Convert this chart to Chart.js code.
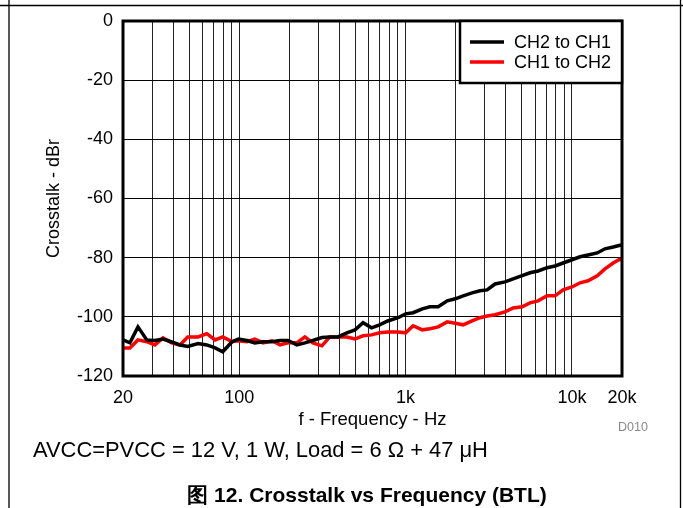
<!DOCTYPE html>
<html>
<head>
<meta charset="utf-8">
<script src="https://cdn.jsdelivr.net/npm/chart.js@4.4.1/dist/chart.umd.min.js"></script>
<style>
html,body{margin:0;padding:0;background:#fff;}
#wrap{position:relative;width:683px;height:508px;}
</style>
</head>
<body>
<div id="wrap"><canvas id="c" width="683" height="508"></canvas></div>
<script>
const freqs = [20, 22, 24.6, 27.8, 31.1, 34.8, 39.3, 44, 49, 56.5, 63.8, 71.6, 79.5, 90.5, 99, 111, 124, 139, 157, 176, 196, 222, 248, 277, 314, 350, 392, 444, 496, 555, 624, 698, 781, 900, 1000, 1110, 1260, 1400, 1570, 1780, 1990, 2220, 2510, 2800, 3090, 3450, 3960, 4430, 5020, 5600, 6260, 7090, 7920, 8850, 10000, 11200, 12500, 14200, 15800, 17700, 19200, 20000];
const ch2toCh1 = [-107.8, -108.8, -103.4, -107.8, -108, -107.5, -108.5, -109.5, -110, -109, -109.5, -110.5, -111.8, -108.4, -107.5, -108, -108.8, -108.4, -108.4, -108, -108, -109.5, -108.8, -108, -107, -106.8, -106.8, -105.4, -104.4, -102, -103.7, -102.7, -101.4, -100.3, -99, -98.6, -97.3, -96.6, -96.6, -94.6, -93.9, -92.9, -91.9, -91.2, -90.9, -88.9, -88.2, -87.2, -86.1, -85.1, -84.5, -83.4, -82.8, -81.8, -80.7, -79.7, -79.1, -78.4, -77, -76.4, -75.9, -75.7];
const ch1toCh2 = [-110.5, -110.5, -107.8, -108.4, -109.5, -107.1, -108.8, -109.5, -106.8, -106.8, -105.7, -107.8, -106.8, -108.4, -108.1, -108.4, -107.5, -108.8, -108.1, -109.5, -108.8, -108.8, -106.8, -108.8, -109.8, -106.8, -106.8, -106.8, -107.5, -106.4, -106.1, -105.4, -105.1, -105.1, -105.4, -103, -104.4, -104, -103.4, -101.7, -102.2, -102.7, -101.4, -100.3, -99.7, -99.3, -98.3, -97, -96.6, -95.3, -94.6, -92.9, -92.9, -90.9, -89.9, -88.5, -87.8, -86.1, -83.8, -81.8, -80.7, -80.4];
const seriesNames = ['CH2 to CH1', 'CH1 to CH2'];
const gridFreqs = [20, 30, 40, 50, 60, 70, 80, 90, 100, 200, 300, 400, 500, 600, 700, 800, 900, 1000, 2000, 3000, 4000, 5000, 6000, 7000, 8000, 9000, 10000, 20000];
const xTickValues = [20, 100, 1000, 10000, 20000];
const xTickLabels = ['20', '100', '1k', '10k', '20k'];
const yTicks = [0, -20, -40, -60, -80, -100, -120];
const xTitle = 'f - Frequency - Hz';
const yTitle = 'Crosstalk - dBr';
const codeLabel = 'D010';
const noteText = 'AVCC=PVCC = 12 V, 1 W, Load = 6 \u03A9 + 47 \u03BCH';
const captionText = '\u56FE 12. Crosstalk vs Frequency (BTL)';

const FONT = '"Liberation Sans", Arial, sans-serif';

const decor = {
  id: 'decor',
  beforeDraw(chart) {
    const ctx = chart.ctx;
    ctx.save();
    ctx.fillStyle = '#fff';
    ctx.fillRect(0, 0, chart.width, chart.height);
    ctx.strokeStyle = '#000';
    ctx.lineWidth = 1.3;
    ctx.beginPath();
    ctx.moveTo(0, 5.5); ctx.lineTo(683, 5.5);
    ctx.moveTo(9, 0); ctx.lineTo(9, 508);
    ctx.moveTo(680.5, 0); ctx.lineTo(680.5, 508);
    ctx.stroke();
    ctx.restore();
  },
  afterDatasetsDraw(chart) {
    const ctx = chart.ctx;
    const a = chart.chartArea;
    ctx.save();
    ctx.strokeStyle = '#000';
    ctx.lineWidth = 3;
    ctx.strokeRect(a.left, a.top, a.right - a.left, a.bottom - a.top);
    // legend box
    const bx = 460, by = a.top, bw = a.right - bx, bh = 62;
    ctx.fillStyle = '#fff';
    ctx.fillRect(bx, by, bw, bh);
    ctx.lineWidth = 2.5;
    ctx.strokeRect(bx, by, bw, bh);
    chart.data.datasets.forEach((ds, i) => {
      const y = by + 21 + i * 20;
      ctx.strokeStyle = ds.borderColor;
      ctx.lineWidth = 3.5;
      ctx.beginPath();
      ctx.moveTo(470, y); ctx.lineTo(504, y);
      ctx.stroke();
      ctx.fillStyle = '#000';
      ctx.font = '18px ' + FONT;
      ctx.textBaseline = 'middle';
      ctx.textAlign = 'left';
      ctx.fillText(ds.label, 514, y + 1);
    });
    // texts
    ctx.fillStyle = '#888';
    ctx.font = '12.5px ' + FONT;
    ctx.textAlign = 'center';
    ctx.textBaseline = 'middle';
    ctx.fillText(codeLabel, 633, 428);
    ctx.fillStyle = '#000';
    ctx.font = '21.9px ' + FONT;
    ctx.textAlign = 'left';
    ctx.fillText(noteText, 33, 451);
    ctx.font = 'bold 21px ' + FONT;
    ctx.textAlign = 'center';
    ctx.fillText(captionText, 367, 496);
    ctx.restore();
  }
};

new Chart(document.getElementById('c'), {
  type: 'line',
  data: {
    datasets: [
      { label: seriesNames[0], data: freqs.map((f, i) => ({x: f, y: ch2toCh1[i]})), borderColor: '#000', borderWidth: 3.5, pointRadius: 0, tension: 0, fill: false },
      { label: seriesNames[1], data: freqs.map((f, i) => ({x: f, y: ch1toCh2[i]})), borderColor: '#ff0000', borderWidth: 3.5, pointRadius: 0, tension: 0, fill: false }
    ]
  },
  options: {
    responsive: false,
    animation: false,
    devicePixelRatio: 1,
    layout: { padding: { top: 21, right: 61, left: 0, bottom: 74 } },
    plugins: { legend: { display: false }, tooltip: { enabled: false } },
    scales: {
      x: {
        type: 'logarithmic',
        min: 20, max: 20000,
        afterBuildTicks(s) { s.ticks = gridFreqs.map(v => ({value: v})); },
        afterFit(s) { s.height = 58; },
        ticks: {
          autoSkip: false, maxRotation: 0, padding: 11, color: '#000',
          font: { family: FONT, size: 18 },
          callback(v) { const k = xTickValues.indexOf(v); return k >= 0 ? xTickLabels[k] : ''; }
        },
        grid: { color: '#222', lineWidth: 1, drawTicks: false },
        border: { display: false },
        title: { display: true, text: xTitle, color: '#000', font: { family: FONT, size: 18.5 }, padding: { top: 0, bottom: 3 } }
      },
      y: {
        type: 'linear',
        min: -120, max: 0,
        afterBuildTicks(s) { s.ticks = yTicks.map(v => ({value: v})); },
        afterFit(s) { s.width = 123; },
        ticks: { padding: 10, color: '#000', font: { family: FONT, size: 18 } },
        grid: { color: '#000', lineWidth: 1, drawTicks: false },
        border: { display: false },
        title: { display: true, text: yTitle, color: '#000', font: { family: FONT, size: 18 }, padding: { top: 43, bottom: 0 } }
      }
    }
  },
  plugins: [decor]
});
</script>
</body>
</html>
